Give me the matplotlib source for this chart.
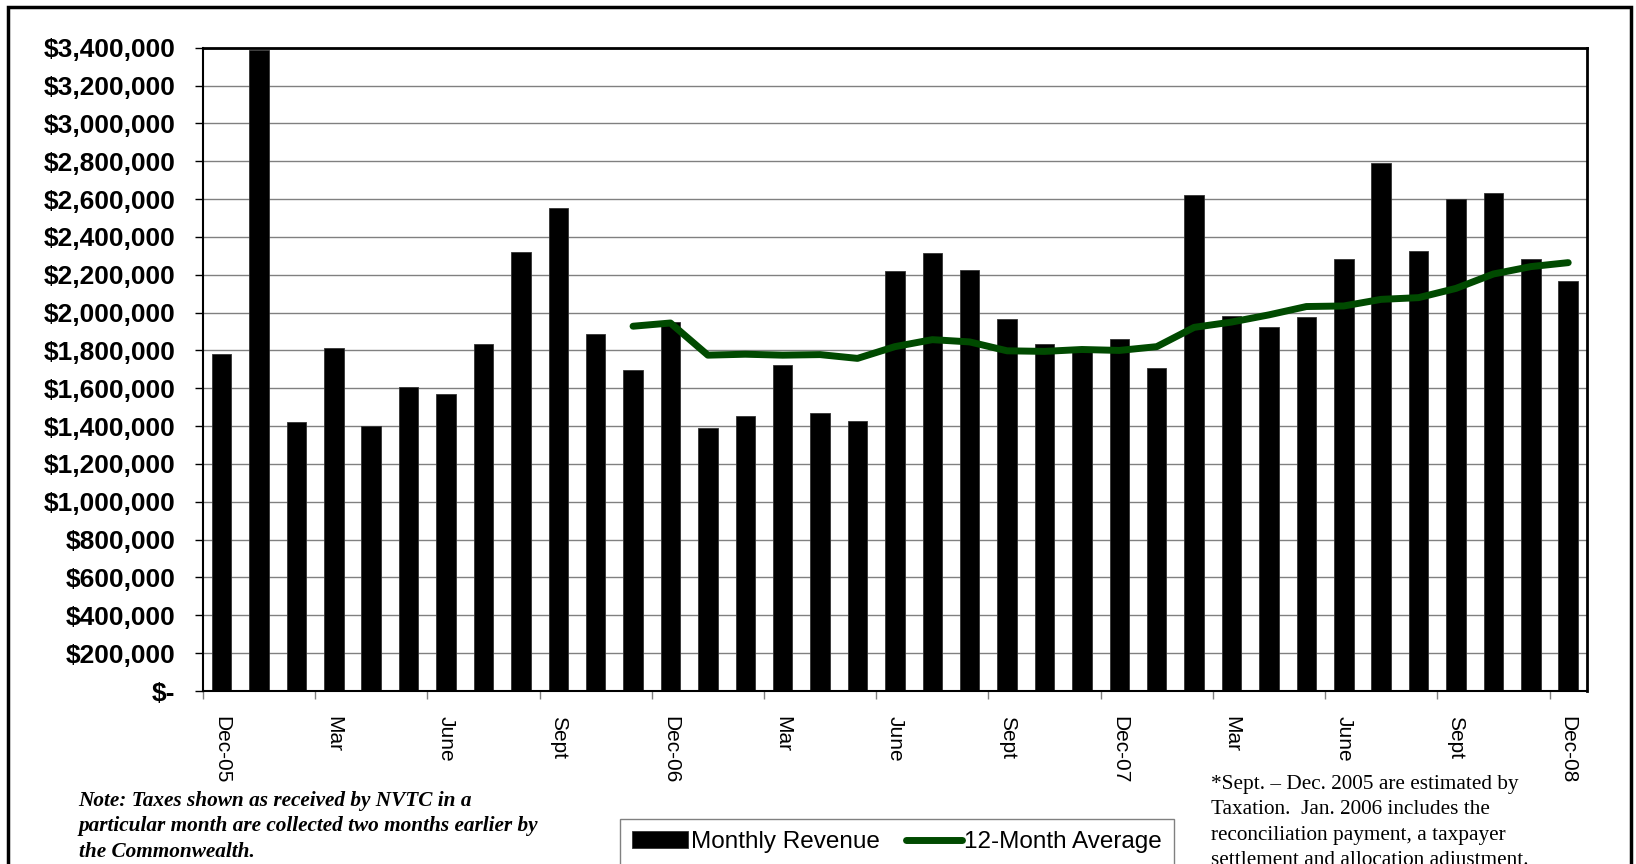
import numpy as np
import matplotlib
matplotlib.use("Agg")
import matplotlib.pyplot as plt
from matplotlib.ticker import FuncFormatter, FixedLocator
from matplotlib.patches import Rectangle

# ========================================
# data (monthly revenue, Dec-05 .. Dec-08)
# ========================================
revenue = [
    1780000, 3388000, 1422000, 1815000, 1400000, 1606000, 1571000, 1835000,
    2322000, 2551000, 1885000, 1696000, 1951000, 1388000, 1455000, 1725000,
    1470000, 1428000, 2218000, 2316000, 2225000, 1968000, 1835000, 1810000,
    1862000, 1706000, 2623000, 1982000, 1926000, 1977000, 2285000, 2789000,
    2328000, 2602000, 2632000, 2285000, 2165000,
]
# 12-month average starts at Nov-06
avg12 = [np.nan] * 11 + [
    1928000, 1945000, 1775000, 1780000, 1775000, 1778000, 1758000, 1820000,
    1857000, 1845000, 1798000, 1795000, 1805000, 1800000, 1820000, 1922000,
    1950000, 1988000, 2032000, 2035000, 2070000, 2079000, 2128000, 2204000,
    2243000, 2264000,
]
tick_labels = ["Dec-05", "Mar", "June", "Sept", "Dec-06", "Mar", "June", "Sept",
               "Dec-07", "Mar", "June", "Sept", "Dec-08"]

note_left = ("Note: Taxes shown as received by NVTC in a\n"
             "particular month are collected two months earlier by\n"
             "the Commonwealth.")
note_right = ("*Sept. \u2013 Dec. 2005 are estimated by\n"
              "Taxation.  Jan. 2006 includes the\n"
              "reconciliation payment, a taxpayer\n"
              "settlement and allocation adjustment.")

# ========================================
# figure
# ========================================
plt.rcParams["font.family"] = ["Liberation Sans", "DejaVu Sans"]
fig = plt.figure(figsize=(16.36, 8.64), dpi=100)
ax = fig.add_axes([0.124, 0.2002, 0.846, 0.7446])

x = np.arange(len(revenue))
bars = ax.bar(x, revenue, width=0.52, color="black", edgecolor="#333333", linewidth=0.6,
              label="Monthly Revenue", zorder=2)
line, = ax.plot(x, avg12, color="#004a00", linewidth=5, solid_capstyle="round",
                solid_joinstyle="round", label="12-Month Average", zorder=3)

ax.set_xlim(-0.5, len(revenue) - 0.5)
ax.set_ylim(0, 3400000)
ax.set_yticks(np.arange(0, 3400001, 200000))
ax.yaxis.set_major_formatter(FuncFormatter(lambda v, p: "$-" if v == 0 else "${:,.0f}".format(v)))
ax.grid(axis="y", color="#808080", linewidth=1, zorder=0)
ax.set_axisbelow(True)

# labels every 3 months, tick marks between categories
ax.set_xticks(np.arange(0, len(revenue), 3))
ax.set_xticklabels(tick_labels, rotation=-90, ha="center", va="top", fontsize=15)
ax.xaxis.set_minor_locator(FixedLocator(np.arange(-0.5, len(revenue), 3)))
ax.tick_params(axis="x", which="major", length=0, pad=18)
ax.tick_params(axis="x", which="minor", length=6, width=1, color="#808080")
ax.tick_params(axis="y", length=6, width=1, pad=14, labelsize=19)
for t in ax.get_yticklabels():
    t.set_fontweight("bold")

for s in ax.spines.values():
    s.set_color("black")
    s.set_linewidth(1.5)
ax.spines["top"].set_linewidth(2)
ax.spines["right"].set_linewidth(2)

# legend at the bottom (cut by the figure edge like the original)
fig.legend(handles=[bars, line], loc="upper left", bbox_to_anchor=(0.379, 0.052),
           ncol=2, fontsize=17.5, frameon=True, fancybox=False, edgecolor="#606060",
           handlelength=2.3, columnspacing=1.1, handletextpad=0.1, borderpad=0.5,
           borderaxespad=0)

# notes
fig.text(0.048, 0.085, note_left, fontsize=15.3, fontstyle="italic", fontweight="bold",
         family=["Liberation Serif"], va="top", linespacing=1.38)
fig.text(0.740, 0.103, note_right, fontsize=15.3, family=["Liberation Serif"],
         va="top", linespacing=1.46)

# outer border
fig.patches.append(Rectangle((0.005, -0.05), 0.992, 1.042, transform=fig.transFigure,
                             fill=False, edgecolor="black", linewidth=2.5))

fig.savefig("out.png", dpi=100)
